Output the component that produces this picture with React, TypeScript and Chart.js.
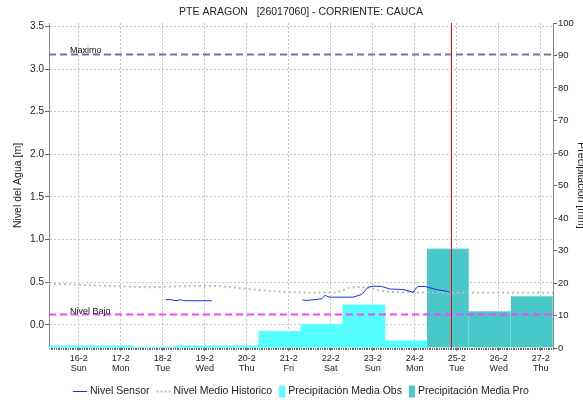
import { useEffect, useRef } from 'react';
import { Chart, registerables } from 'chart.js';

Chart.register(...registerables);

// ---- data ----
const X_MIN = 15.2917; // 15-2 07:00
const X_MAX = 27.2917; // 27-2 07:00
const dayTicks = [16, 17, 18, 19, 20, 21, 22, 23, 24, 25, 26, 27];
const dayLabels = ['16-2', '17-2', '18-2', '19-2', '20-2', '21-2', '22-2', '23-2', '24-2', '25-2', '26-2', '27-2'];
const weekdayLabels = ['Sun', 'Mon', 'Tue', 'Wed', 'Thu', 'Fri', 'Sat', 'Sun', 'Mon', 'Tue', 'Wed', 'Thu'];
const levelTicks = [0, 0.5, 1.0, 1.5, 2.0, 2.5, 3.0, 3.5];
const precipTicks = [0, 10, 20, 30, 40, 50, 60, 70, 80, 90, 100];

const precipCenters = [15.79, 16.79, 17.79, 18.79, 19.79, 20.79, 21.79, 22.79, 23.79, 24.79, 25.79, 26.79];
const precipObs = [0.7, 0.7, 0.3, 0.7, 0.7, 5.1, 7.3, 13.3, 2.2, null, null, null];
const precipPro = [null, null, null, null, null, null, null, null, null, 30.6, 11.3, 16.0];

const sensorX = [18.07, 18.2, 18.28, 18.36, 18.42, 18.5, 19.17, 19.5,
  21.33, 21.42, 21.78, 21.86, 21.98, 22.53, 22.73, 22.89, 23.01, 23.21, 23.41, 23.72, 23.96, 24.07, 24.24, 24.52, 24.76, 24.83];
const sensorY = [0.295, 0.295, 0.285, 0.285, 0.295, 0.283, 0.282, null,
  0.293, 0.285, 0.305, 0.344, 0.324, 0.324, 0.355, 0.441, 0.453, 0.45, 0.42, 0.414, 0.383, 0.45, 0.45, 0.414, 0.394, 0.383];

const histX = [15.29, 16.0, 16.5, 17.0, 17.7, 18.3, 18.65, 19.29, 19.67, 20.24, 20.91, 21.27, 22.15, 22.3, 22.45, 22.86, 23.1, 23.41, 24.0, 24.9, 26.0, 27.29];
const histY = [0.48, 0.47, 0.46, 0.45, 0.44, 0.45, 0.455, 0.455, 0.44, 0.41, 0.385, 0.38, 0.38, 0.41, 0.44, 0.44, 0.41, 0.385, 0.38, 0.375, 0.375, 0.375];

const nivelMaximo = 3.17;
const nivelBajo = 0.12;
const nowX = 24.875;

const TITLE = 'PTE ARAGON   [26017060] - CORRIENTE: CAUCA';
const FONT = 'Liberation Sans, Arial, sans-serif';

const legendItems = [
  { label: 'Nivel Sensor', kind: 'line', color: '#1a2fe0', dash: [] as number[] },
  { label: 'Nivel Medio Historico', kind: 'line', color: '#bdbdbd', dash: [2, 2] },
  { label: 'Precipitación Media Obs', kind: 'box', color: '#55ffff', dash: [] as number[] },
  { label: 'Precipitación Media Pro', kind: 'box', color: '#48c8c8', dash: [] as number[] },
];

const extrasPlugin = {
  id: 'extras',
  afterDatasetsDraw(chart: any) {
    const { ctx, chartArea } = chart;
    const xs = chart.scales.x;
    const ys = chart.scales.y;
    ctx.save();
    // red "now" line
    const nx = Math.round(xs.getPixelForValue(nowX)) + 0.5;
    ctx.setLineDash([]);
    ctx.strokeStyle = 'rgb(255,0,0)';
    ctx.lineWidth = 1;
    ctx.beginPath();
    ctx.moveTo(nx, chartArea.top);
    ctx.lineTo(nx, chartArea.bottom);
    ctx.stroke();
    // reference line labels
    ctx.fillStyle = '#111';
    ctx.font = '9px ' + FONT;
    ctx.textAlign = 'left';
    ctx.textBaseline = 'alphabetic';
    ctx.fillText('Maximo', chartArea.left + 21, ys.getPixelForValue(nivelMaximo) - 2);
    ctx.fillText('Nivel Bajo', chartArea.left + 21, ys.getPixelForValue(nivelBajo) - 1);
    ctx.restore();
  },
  afterDraw(chart: any) {
    const { ctx, chartArea } = chart;
    const xs = chart.scales.x;
    ctx.save();
    // minor hourly ticks along the bottom axis
    ctx.strokeStyle = '#666';
    ctx.lineWidth = 1;
    ctx.beginPath();
    for (let h = Math.ceil(X_MIN * 24); h <= Math.floor(X_MAX * 24); h++) {
      const px = Math.round(xs.getPixelForValue(h / 24)) + 0.5;
      ctx.moveTo(px, chartArea.bottom);
      ctx.lineTo(px, chartArea.bottom + 2);
    }
    ctx.stroke();

    const cx = (chartArea.left + chartArea.right) / 2;
    const cy = (chartArea.top + chartArea.bottom) / 2;
    // title
    ctx.fillStyle = '#222';
    ctx.font = '10.5px ' + FONT;
    ctx.textAlign = 'center';
    ctx.textBaseline = 'middle';
    ctx.fillText(TITLE, cx, 12);
    // left axis title
    ctx.save();
    ctx.translate(18, cy);
    ctx.rotate(-Math.PI / 2);
    ctx.fillText('Nivel del Agua [m]', 0, 0);
    ctx.restore();
    // right axis title (clipped by canvas edge)
    ctx.save();
    ctx.translate(578, cy);
    ctx.rotate(Math.PI / 2);
    ctx.textBaseline = 'alphabetic';
    ctx.fillText('Precipitación [mm]', 0, 0);
    ctx.restore();

    // legend
    ctx.font = '10.5px ' + FONT;
    ctx.textAlign = 'left';
    ctx.textBaseline = 'middle';
    const ly = 391.5;
    const widths = legendItems.map((it) => (it.kind === 'line' ? 14 : 6) + 3 + ctx.measureText(it.label).width);
    const total = widths.reduce((a, b) => a + b, 0) + 7 * (legendItems.length - 1);
    let x = Math.round(cx - total / 2);
    legendItems.forEach((it, i) => {
      if (it.kind === 'line') {
        ctx.strokeStyle = it.color;
        ctx.lineWidth = it.dash.length ? 2 : 1;
        ctx.setLineDash(it.dash);
        ctx.beginPath();
        ctx.moveTo(x, ly);
        ctx.lineTo(x + 14, ly);
        ctx.stroke();
        ctx.setLineDash([]);
        x += 17;
      } else {
        ctx.fillStyle = it.color;
        ctx.fillRect(x, ly - 6, 6, 12);
        x += 9;
      }
      ctx.fillStyle = '#222';
      ctx.fillText(it.label, x, ly);
      x += widths[i] - (it.kind === 'line' ? 17 : 9) + 7;
    });
    ctx.restore();
  },
};

export default function App() {
  const ref = useRef<HTMLCanvasElement>(null);
  useEffect(() => {
    const canvas = ref.current;
    if (!canvas) return;
    const chart = new Chart(canvas, {
      type: 'line',
      data: {
        datasets: [
          {
            type: 'line',
            label: 'Nivel Sensor',
            data: sensorX.map((x, i) => ({ x, y: sensorY[i] })),
            borderColor: '#1a2fe0',
            borderWidth: 1,
            pointRadius: 0,
            spanGaps: false,
            yAxisID: 'y',
          },
          {
            type: 'line',
            label: 'Nivel Medio Historico',
            data: histX.map((x, i) => ({ x, y: histY[i] })),
            borderColor: '#bdbdbd',
            borderWidth: 2,
            borderDash: [2, 3],
            pointRadius: 0,
            yAxisID: 'y',
          },
          {
            type: 'line',
            label: 'Maximo',
            data: [{ x: X_MIN, y: nivelMaximo }, { x: X_MAX, y: nivelMaximo }],
            borderColor: '#6a78a6',
            borderWidth: 2,
            borderDash: [7, 4],
            pointRadius: 0,
            yAxisID: 'y',
          },
          {
            type: 'line',
            label: 'Nivel Bajo',
            data: [{ x: X_MIN, y: nivelBajo }, { x: X_MAX, y: nivelBajo }],
            borderColor: '#ff40ff',
            borderWidth: 2,
            borderDash: [7, 4],
            pointRadius: 0,
            yAxisID: 'y',
          },
          {
            type: 'bar',
            label: 'Precipitación Media Obs',
            data: precipCenters.map((x, i) => ({ x, y: precipObs[i] })) as any,
            backgroundColor: '#55ffff',
            borderWidth: 0,
            barPercentage: 1,
            categoryPercentage: 1,
            grouped: false,
            yAxisID: 'y1',
          } as any,
          {
            type: 'bar',
            label: 'Precipitación Media Pro',
            data: precipCenters.map((x, i) => ({ x, y: precipPro[i] })) as any,
            backgroundColor: '#48c8c8',
            borderColor: '#8adcdc',
            borderWidth: { top: 1, left: 0, right: 1, bottom: 0 },
            barPercentage: 1,
            categoryPercentage: 1,
            grouped: false,
            yAxisID: 'y1',
          } as any,
        ],
      },
      options: {
        animation: false,
        responsive: false,
        devicePixelRatio: 1,
        events: [],
        layout: { padding: { top: 23, left: 0, right: 0, bottom: 0 } },
        plugins: { legend: { display: false }, tooltip: { enabled: false }, title: { display: false } },
        scales: {
          x: {
            type: 'linear',
            min: X_MIN,
            max: X_MAX,
            offset: false,
            position: 'bottom',
            afterFit: (s: any) => { s.height = 55; },
            afterBuildTicks: (s: any) => { s.ticks = dayTicks.map((v) => ({ value: v })); },
            grid: { offset: false, color: '#c4c4c4', lineWidth: 1, drawTicks: true, tickLength: 3, tickColor: '#777' },
            border: { display: false, dash: [2, 2] },
            ticks: {
              autoSkip: false,
              maxRotation: 0,
              padding: 2.5,
              color: '#222',
              font: { family: FONT, size: 9, lineHeight: 1.1 },
              callback: (v: any) => {
                const i = dayTicks.indexOf(Number(v));
                return i >= 0 ? [dayLabels[i], weekdayLabels[i]] : '';
              },
            },
          },
          y: {
            type: 'linear',
            position: 'left',
            min: -0.272,
            max: 3.54,
            afterFit: (s: any) => { s.width = 49; },
            afterBuildTicks: (s: any) => { s.ticks = levelTicks.map((v) => ({ value: v })); },
            grid: { color: '#c4c4c4', lineWidth: 1, drawTicks: true, tickLength: 4, tickColor: '#666' },
            border: { display: true, color: '#888', width: 1, dash: [2, 2] },
            ticks: {
              padding: 1,
              color: '#222',
              font: { family: FONT, size: 10 },
              callback: (v: any) => Number(v).toFixed(1),
            },
          },
          y1: {
            type: 'linear',
            position: 'right',
            min: 0,
            max: 100,
            afterFit: (s: any) => { s.width = 30; },
            afterBuildTicks: (s: any) => { s.ticks = precipTicks.map((v) => ({ value: v })); },
            grid: { drawOnChartArea: false, drawTicks: true, tickLength: 4, tickColor: '#666' },
            border: { display: true, color: '#888', width: 1 },
            ticks: {
              padding: 1,
              color: '#222',
              font: { family: FONT, size: 9.5 },
              callback: (v: any) => String(v),
            },
          },
        },
      } as any,
      plugins: [extrasPlugin],
    });
    return () => chart.destroy();
  }, []);
  return (
    <div style={{ position: 'fixed', left: 0, top: 0, width: 583, height: 403, background: '#fff', overflow: 'hidden' }}>
      <canvas ref={ref} width={583} height={403} style={{ display: 'block', width: 583, height: 403 }} />
    </div>
  );
}
